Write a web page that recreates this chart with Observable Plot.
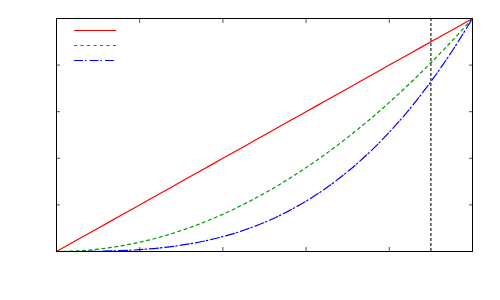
<!DOCTYPE html>
<html>
<head>
<meta charset="utf-8">
<script src="https://cdn.jsdelivr.net/npm/d3@7"></script>
<script src="https://cdn.jsdelivr.net/npm/@observablehq/plot@0.6"></script>
<style>
  body { margin: 0; background: #fff; }
  #wrap { position: relative; width: 500px; height: 300px; }
  #legend { position: absolute; left: 0; top: 0; pointer-events: none; }
</style>
</head>
<body>
<div id="wrap"></div>
<script>
// Values
const xs = [0, 0.05, 0.1, 0.15, 0.2, 0.25, 0.3, 0.35, 0.4, 0.45, 0.5, 0.55, 0.6, 0.65, 0.7, 0.75, 0.8, 0.85, 0.9, 0.95, 1];
const redVals = [0, 0.05, 0.1, 0.15, 0.2, 0.25, 0.3, 0.35, 0.4, 0.45, 0.5, 0.55, 0.6, 0.65, 0.7, 0.75, 0.8, 0.85, 0.9, 0.95, 1];
const greenVals = [0, 0.0025, 0.01, 0.0225, 0.04, 0.0625, 0.09, 0.1225, 0.16, 0.2025, 0.25, 0.3025, 0.36, 0.4225, 0.49, 0.5625, 0.64, 0.7225, 0.81, 0.9025, 1];
const blueVals = [0, 0.0001, 0.001, 0.0034, 0.008, 0.0156, 0.027, 0.0429, 0.064, 0.0911, 0.125, 0.1664, 0.216, 0.2746, 0.343, 0.4219, 0.512, 0.6141, 0.729, 0.8574, 1];
const xTicks = [0, 0.2, 0.4, 0.6, 0.8, 1];
const yTicks = [0, 0.2, 0.4, 0.6, 0.8, 1];
const markerX = [0.9];

const seriesDefs = [
  {name: "red", vals: redVals, color: "#ff0000", dash: null},
  {name: "green", vals: greenVals, color: "#009a00", dash: "3,3.5"},
  {name: "blue", vals: blueVals, color: "#0000ff", dash: "9,2,1.5,3"}
];

const lineMarks = seriesDefs.map(s =>
  Plot.line(xs.map((x, i) => ({x, y: s.vals[i]})), {
    x: "x", y: "y", stroke: s.color, strokeWidth: 1.2,
    strokeDasharray: s.dash, curve: "catmull-rom"
  })
);

const noLabel = () => "";
const tickStyle = {tickSize: -4, tickFormat: noLabel, stroke: "#555", label: null};

const chart = Plot.plot({
  width: 500, height: 300,
  marginLeft: 56, marginRight: 28, marginTop: 18, marginBottom: 49,
  x: {domain: [0, 1]},
  y: {domain: [0, 1]},
  style: {background: "#fff"},
  marks: [
    Plot.axisX(xTicks, {anchor: "bottom", ...tickStyle}),
    Plot.axisX(xTicks, {anchor: "top", ...tickStyle}),
    Plot.axisY(yTicks, {anchor: "left", ...tickStyle}),
    Plot.axisY(yTicks, {anchor: "right", ...tickStyle}),
    Plot.ruleX(markerX, {stroke: "#222", strokeDasharray: "3,2", strokeWidth: 1.2}),
    ...lineMarks,
    Plot.frame({stroke: "#000", strokeWidth: 1})
  ]
});
const wrap = document.getElementById("wrap");
wrap.appendChild(chart);

// Legend (line samples only, as in the reference)
const leg = d3.create("svg").attr("id", "legend").attr("width", 500).attr("height", 300);
seriesDefs.forEach((s, i) => {
  leg.append("line")
    .attr("x1", 74).attr("x2", 116)
    .attr("y1", 30.5 + i * 15).attr("y2", 30.5 + i * 15)
    .attr("stroke", s.color).attr("stroke-width", 1.2)
    .attr("stroke-dasharray", s.dash);
});
wrap.appendChild(leg.node());
</script>
</body>
</html>
